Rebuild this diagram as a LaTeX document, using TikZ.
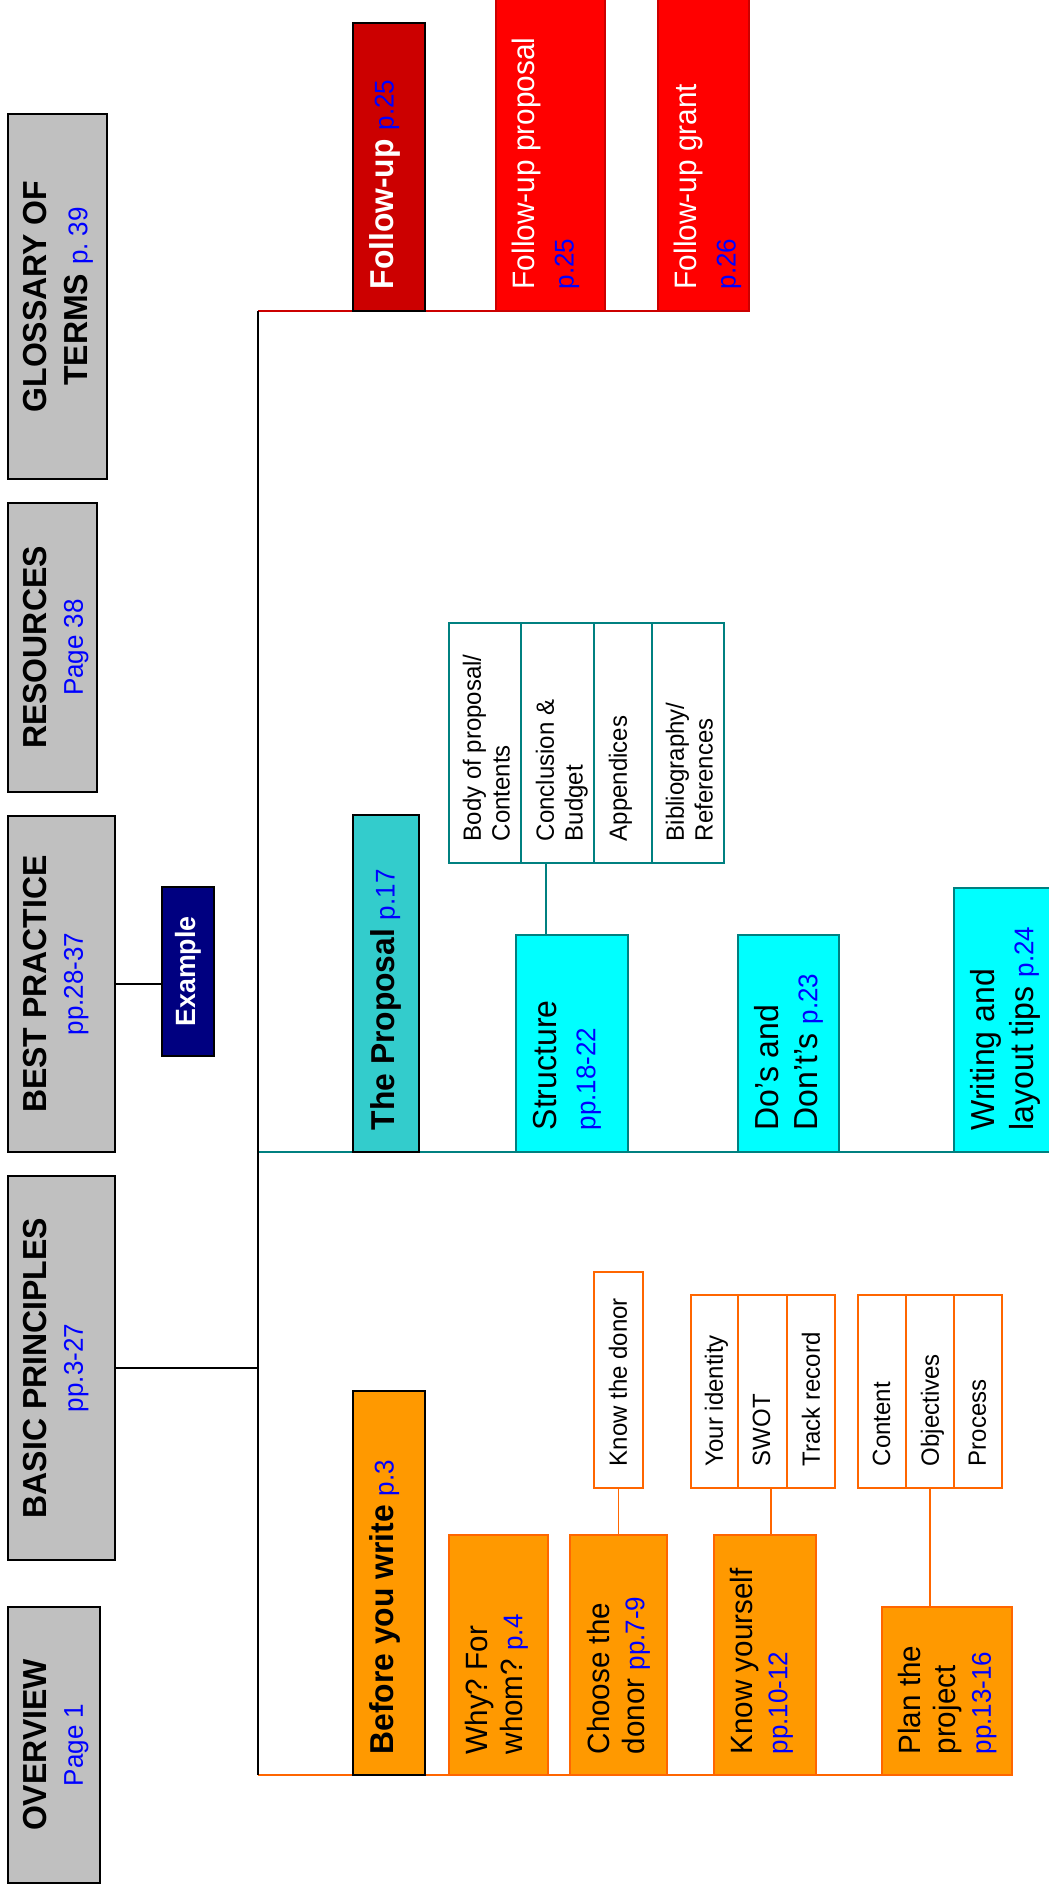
\documentclass[tikz,border=0pt]{standalone}
\usepackage{fontspec}
\setmainfont{Liberation Sans}
\usetikzlibrary{fit,calc,backgrounds}
\frenchspacing
\definecolor{gfill}{HTML}{C0C0C0}
\definecolor{refblue}{HTML}{0000FF}
\definecolor{orfill}{HTML}{FF9900}
\definecolor{orline}{HTML}{FF6600}
\definecolor{cyfill}{HTML}{00FFFF}
\definecolor{tealline}{HTML}{008080}
\definecolor{propfill}{HTML}{33CCCC}
\definecolor{fudark}{HTML}{CC0000}
\definecolor{fured}{HTML}{FF0000}
\definecolor{navyfill}{HTML}{000080}
\newcommand\pg[1]{{\mdseries\color{refblue}\fontsize{13}{13}\selectfont #1}}
\tikzset{
  anybox/.style={inner sep=0pt, line width=0.7pt},
  gbox/.style={anybox, draw=black, fill=gfill, line width=0.9pt},
  navybox/.style={anybox, draw=black, fill=navyfill},
  fubox/.style={anybox, draw=black, fill=fudark},
  redbox/.style={anybox, draw=fudark, fill=fured},
  propbox/.style={anybox, draw=black, fill=propfill},
  cybox/.style={anybox, draw=tealline, fill=cyfill},
  tsub/.style={anybox, draw=tealline, fill=white},
  orbox/.style={anybox, draw=orline, fill=orfill},
  orboxk/.style={anybox, draw=black, fill=orfill},
  osub/.style={anybox, draw=orline, fill=white},
  rtxt/.style={rotate=90, yscale=1.04, inner sep=0pt},
  hdtxt/.style={rtxt, anchor=north, align=center,
    font=\fontsize{16}{17.4}\selectfont\bfseries},
  extxt/.style={rtxt, anchor=center, text=white,
    font=\fontsize{13.4}{15}\selectfont\bfseries},
  bdtxt/.style={rtxt, anchor=north west, align=left,
    font=\fontsize{15.9}{18}\selectfont\bfseries},
  ortxt/.style={rtxt, anchor=north west, align=left,
    font=\fontsize{14.8}{17}\selectfont},
  tytxt/.style={rtxt, anchor=north west, align=left,
    font=\fontsize{16}{18.5}\selectfont},
  rdtxt/.style={rtxt, anchor=north west, align=left, text=white,
    font=\fontsize{14.9}{19}\selectfont},
  smtxt/.style={rtxt, anchor=north west, align=left,
    font=\fontsize{12}{13.8}\selectfont},
  blkln/.style={draw=black, line width=0.75pt},
  redln/.style={draw=fudark, line width=0.9pt},
  tealln/.style={draw=tealline, line width=0.9pt},
  orln/.style={draw=orline, line width=0.9pt},
}
\begin{document}
\begin{tikzpicture}[x=0.5pt,y=-0.5pt]
\useasboundingbox (0,0) rectangle (1049,1892);
\clip (0,0) rectangle (1049,1892);

% ---- header column ----
\node[gbox, fit={(8,114) (107,479)}] (glos) {};
\node[hdtxt] (glosT) at ($(glos.west)+(16,0)$) {GLOSSARY OF\\[2.1pt]TERMS \pg{p. 39}};
\node[gbox, fit={(8,503) (97,792)}] (res) {};
\node[hdtxt] (resT) at ($(res.west)+(16,0)$) {RESOURCES\\\pg{Page 38}};
\node[gbox, fit={(8,816) (115,1152)}] (bp) {};
\node[hdtxt] (bpT) at ($(bp.west)+(16,0)$) {BEST PRACTICE\\\pg{pp.28-37}};
\node[gbox, fit={(8,1176) (115,1560)}] (basic) {};
\node[hdtxt] (basicT) at ($(basic.west)+(16,0)$) {BASIC PRINCIPLES\\\pg{pp.3-27}};
\node[gbox, fit={(8,1607) (100,1883)}] (over) {};
\node[hdtxt] (overT) at ($(over.west)+(16,0)$) {OVERVIEW\\\pg{Page 1}};
\node[navybox, fit={(162,887) (214,1056)}] (ex) {};
\node[extxt] (exT) at (ex.center) {Example};

% ---- follow-up ----
\node[fubox, fit={(353,23) (425,311)}] (fu) {};
\node[bdtxt, text=white] (fuT) at ($(fu.south west)+(17,-22)$) {Follow-up \pg{p.25}};
\node[redbox, fit={(496,-12) (605,311)}] (fprop) {};
\node[rdtxt] (fpropT) at ($(fprop.south west)+(16,-22)$) {Follow-up proposal\\\pg{p.25}};
\node[redbox, fit={(658,-12) (749,311)}] (fgrant) {};
\node[rdtxt] (fgrantT) at ($(fgrant.south west)+(16,-22)$) {Follow-up grant\\\pg{p.26}};

% ---- the proposal ----
\node[propbox, fit={(353,815) (419,1152)}] (prop) {};
\node[bdtxt] (propT) at ($(prop.south west)+(18,-22)$) {The Proposal \pg{p.17}};
\node[tsub, fit={(449,623) (521,863)}] (body) {};
\node[smtxt] (bodyT) at ($(body.south west)+(14,-22)$) {Body of proposal/\\Contents};
\node[tsub, fit={(521,623) (594,863)}] (conc) {};
\node[smtxt] (concT) at ($(conc.south west)+(15,-22)$) {Conclusion \&\\Budget};
\node[tsub, fit={(594,623) (652,863)}] (app) {};
\node[smtxt] (appT) at ($(app.south west)+(15,-22)$) {Appendices};
\node[tsub, fit={(652,623) (724,863)}] (bib) {};
\node[smtxt] (bibT) at ($(bib.south west)+(14,-22)$) {Bibliography/\\References};
\node[cybox, fit={(516,935) (628,1152)}] (structure) {};
\node[tytxt] (structureT) at ($(structure.south west)+(18,-22)$) {Structure\\\pg{pp.18-22}};
\node[cybox, fit={(738,935) (839,1152)}] (dos) {};
\node[tytxt] (dosT) at ($(dos.south west)+(17,-22)$) {Do’s and\\Don’t’s \pg{p.23}};
\node[cybox, fit={(954,888) (1064,1152)}] (writing) {};
\node[tytxt] (writingT) at ($(writing.south west)+(17,-22)$) {Writing and\\layout tips \pg{p.24}};

% ---- before you write ----
\node[orboxk, fit={(353,1391) (425,1775)}] (bfw) {};
\node[bdtxt] (bfwT) at ($(bfw.south west)+(17,-21)$) {Before you write \pg{p.3}};
\node[orbox, fit={(449,1535) (548,1775)}] (why) {};
\node[ortxt] (whyT) at ($(why.south west)+(16,-21)$) {Why? For\\whom? \pg{p.4}};
\node[orbox, fit={(570,1535) (667,1775)}] (choose) {};
\node[ortxt] (chooseT) at ($(choose.south west)+(17,-21)$) {Choose the\\donor \pg{pp.7-9}};
\node[orbox, fit={(714,1535) (816,1775)}] (ky) {};
\node[ortxt] (kyT) at ($(ky.south west)+(16,-21)$) {Know yourself\\\pg{pp.10-12}};
\node[orbox, fit={(882,1607) (1012,1775)}] (plan) {};
\node[ortxt] (planT) at ($(plan.south west)+(16,-21)$) {Plan the\\project\\\pg{pp.13-16}};
\node[osub, fit={(594,1272) (643,1488)}] (ktd) {};
\node[smtxt] (ktdT) at ($(ktd.south west)+(15,-22)$) {Know the donor};
\node[osub, fit={(691,1295) (738,1488)}] (ident) {};
\node[smtxt] (identT) at ($(ident.south west)+(14,-22)$) {Your identity};
\node[osub, fit={(738,1295) (787,1488)}] (swot) {};
\node[smtxt] (swotT) at ($(swot.south west)+(15,-22)$) {SWOT};
\node[osub, fit={(787,1295) (835,1488)}] (track) {};
\node[smtxt] (trackT) at ($(track.south west)+(15,-22)$) {Track record};
\node[osub, fit={(858,1295) (906,1488)}] (content) {};
\node[smtxt] (contentT) at ($(content.south west)+(15,-22)$) {Content};
\node[osub, fit={(906,1295) (954,1488)}] (obj) {};
\node[smtxt] (objT) at ($(obj.south west)+(15,-22)$) {Objectives};
\node[osub, fit={(954,1295) (1002,1488)}] (proc) {};
\node[smtxt] (procT) at ($(proc.south west)+(15,-22)$) {Process};

% ---- connectors ----
\coordinate (tTop) at (258,311);
\coordinate (tBot) at (258,1775);
\coordinate (tTeal) at (258,1152);
\coordinate (sc) at ($(structure.north west)+(31,0)$);
\coordinate (kc) at ($(ky.north west)+(58,0)$);
\begin{pgfonlayer}{background}
\fill[white] (0,0) rectangle (1049,1892);
\draw[redln] (tTop) -- (tTop -| fgrant.west);
\draw[tealln] (tTeal) -- (tTeal -| writing.west);
\draw[orln] (tBot) -- (tBot -| plan.west);
\draw[blkln] (tTop) -- (tBot);
\draw[blkln] (basic.east) -- (basic.east -| tTop);
\draw[blkln] (bp.east) -- (bp.east -| ex.west);
\draw[tealln] (sc) -- (sc |- conc.south);
\draw[orln] (ktd.south) -- (ktd.south |- choose.north);
\draw[orln] (kc) -- (kc |- swot.south);
\draw[orln] (obj.south) -- (obj.south |- plan.north);
\end{pgfonlayer}
\end{tikzpicture}
\end{document}
